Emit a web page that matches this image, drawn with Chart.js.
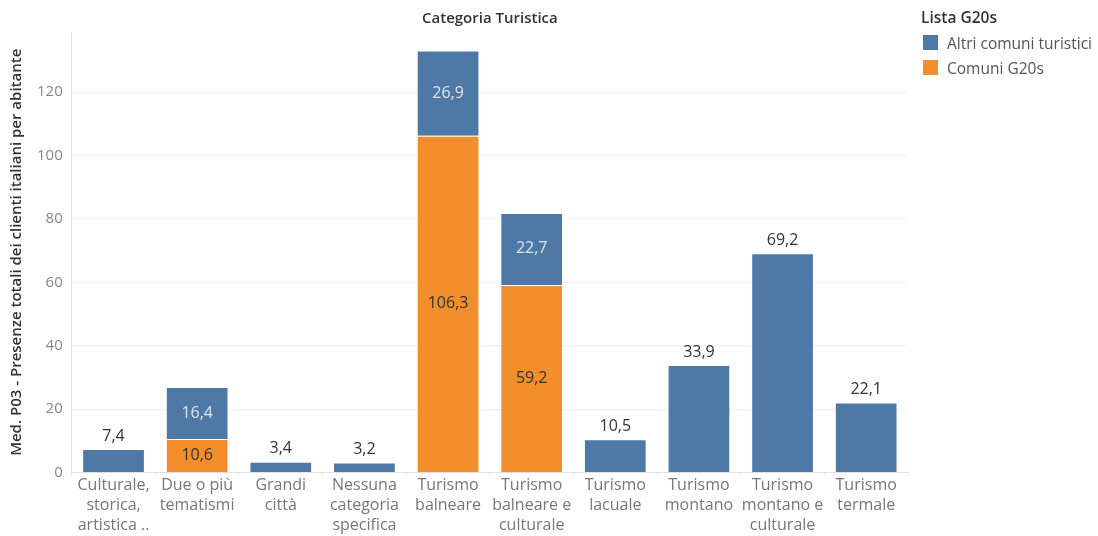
<!DOCTYPE html>
<html>
<head>
<meta charset="utf-8">
<script src="https://cdn.jsdelivr.net/npm/chart.js@4"></script>
<style>
    body { margin: 0; background: #fff; font-family: "Open Sans", sans-serif; }
    #wrap { position: relative; width: 1098px; height: 536px; }
    #legend { position: absolute; left: 921px; top: 6px; color: #555; font-size: 15.5px; }
    #legend .title { font-weight: 600; color: #333; margin-bottom: 2px; }
    #legend .item { display: flex; align-items: center; height: 25px; }
    #legend .box { width: 15px; height: 15px; margin: 0 9px 0 2px; }
</style>
</head>
<body>
<div id="wrap">
    <canvas id="g20Chart" width="1098" height="536"></canvas>
    <div id="legend"></div>
</div>
<script>
const categories = [
    ["Culturale,", "storica,", "artistica .."],
    ["Due o più", "tematismi"],
    ["Grandi", "città"],
    ["Nessuna", "categoria", "specifica"],
    ["Turismo", "balneare"],
    ["Turismo", "balneare e", "culturale"],
    ["Turismo", "lacuale"],
    ["Turismo", "montano"],
    ["Turismo", "montano e", "culturale"],
    ["Turismo", "termale"],
];
const comuniG20s = [null, 10.6, null, null, 106.3, 59.2, null, null, null, null];
const altriComuni = [7.4, 16.4, 3.4, 3.2, 26.9, 22.7, 10.5, 33.9, 69.2, 22.1];
const yTicks = [0, 20, 40, 60, 80, 100, 120];

const BLUE = "#4e79a7";
const ORANGE = "#f28e2b";

// legend, Altri first like the Tableau sheet
const legendEl = document.getElementById("legend");
legendEl.innerHTML =
    '<div class="title">Lista G20s</div>' +
    [["Altri comuni turistici", BLUE], ["Comuni G20s", ORANGE]]
        .map(([t, c]) => `<div class="item"><span class="box" style="background:${c}"></span>${t}</div>`)
        .join("");

const fmt = (v) => v.toFixed(1).replace(".", ",");

// value labels: inside each segment when stacked, above the bar otherwise
const barLabels = {
    id: "barLabels",
    afterDatasetsDraw(chart) {
        const ctx = chart.ctx;
        ctx.save();
        ctx.font = '16px "Open Sans"';
        ctx.textAlign = "center";
        ctx.textBaseline = "middle";
        chart.data.datasets.forEach((ds, di) => {
            const meta = chart.getDatasetMeta(di);
            meta.data.forEach((bar, i) => {
                const v = ds.data[i];
                if (v == null) return;
                const stacked = comuniG20s[i] != null;
                if (stacked) {
                    ctx.fillStyle = di === 1 ? "#dde6f0" : "#333";
                    ctx.fillText(fmt(v), bar.x, (bar.y + bar.base) / 2);
                } else {
                    ctx.fillStyle = "#333";
                    ctx.fillText(fmt(v), bar.x, bar.y - 13);
                }
            });
        });
        ctx.restore();
    },
};

const ctx = document.getElementById("g20Chart").getContext("2d");
new Chart(ctx, {
    type: "bar",
    data: {
        labels: categories,
        datasets: [
            {
                label: "Comuni G20s",
                data: comuniG20s,
                backgroundColor: ORANGE,
                borderColor: "rgba(255,255,255,0.35)",
                borderWidth: 1,
            },
            {
                label: "Altri comuni turistici",
                data: altriComuni,
                backgroundColor: BLUE,
                borderColor: "rgba(255,255,255,0.35)",
                borderWidth: 1,
            },
        ],
    },
    options: {
        responsive: false,
        animation: false,
        layout: { padding: { left: 2, right: 190, top: 10, bottom: 0 } },
        datasets: { bar: { categoryPercentage: 1, barPercentage: 0.75 } },
        plugins: {
            legend: { display: false },
            tooltip: { enabled: false },
            title: {
                display: true,
                fullSize: false,
                text: "Categoria Turistica",
                color: "#333",
                font: { family: "Open Sans", size: 15, weight: "600" },
                padding: { top: 0, bottom: 4 },
            },
        },
        scales: {
            x: {
                stacked: true,
                grid: { display: true, offset: true, drawOnChartArea: false, tickLength: 3, color: "#ececec" },
                border: { color: "#e0e0e0" },
                ticks: {
                    color: "#777",
                    font: { family: "Open Sans", size: 16, lineHeight: 1.26 },
                    maxRotation: 0,
                    autoSkip: false,
                    padding: 0,
                },
            },
            y: {
                stacked: true,
                min: 0,
                max: 139,
                afterBuildTicks: (scale) => {
                    scale.ticks = yTicks.map((v) => ({ value: v }));
                },
                grid: { color: "#f0f0f0", drawTicks: false },
                border: { color: "#e0e0e0" },
                ticks: {
                    color: "#888",
                    font: { family: "Open Sans", size: 15 },
                    padding: 9,
                },
                title: {
                    display: true,
                    text: "Med. P03 - Presenze totali dei clienti italiani per abitante",
                    color: "#333",
                    font: { family: "Open Sans", size: 15, weight: "600" },
                    padding: { top: 6, bottom: 2 },
                },
            },
        },
    },
    plugins: [barLabels],
});
</script>
</body>
</html>
